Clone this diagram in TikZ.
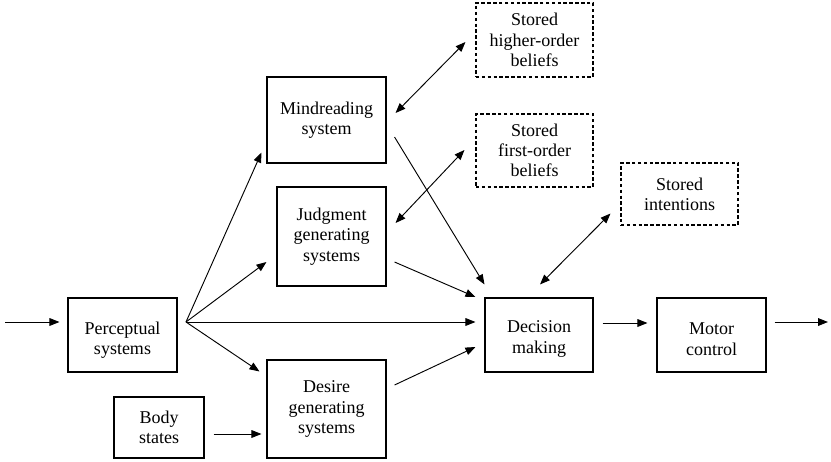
\documentclass[tikz,border=0pt]{standalone}
\usepackage{fontspec}
\setmainfont{Liberation Serif}
\newfontfamily\timesx{Liberation Serif}
\usetikzlibrary{arrows.meta,calc}
\begin{document}
\begin{tikzpicture}[x=0.75pt,y=-0.75pt,
  box/.style={draw,line width=0.8pt,align=center,inner sep=0pt,
    font=\timesx\fontsize{13.5}{15.2}\selectfont},
  solidbox/.style={box},
  dashbox/.style={box,dash pattern=on 2.6pt off 1.8pt},
  arr/.style={line width=0.7pt,-{Triangle[length=7.5pt,width=5.8pt]}},
  darr/.style={line width=0.7pt,{Triangle[length=7.5pt,width=5.8pt]}-{Triangle[length=7.5pt,width=5.8pt]}}]
\useasboundingbox (0,0) rectangle (831,461);
% boxes
\node[solidbox,minimum width=109*0.75pt,minimum height=74*0.75pt] (perc) at (122.5,335) {\rule{0pt}{17pt}Perceptual\\systems};
\node[solidbox,minimum width=90*0.75pt,minimum height=61*0.75pt] (body) at (159,427.5) {Body\\states};
\node[solidbox,minimum width=119*0.75pt,minimum height=86*0.75pt] (mind) at (326.5,120) {Mindreading\\system};
\node[solidbox,minimum width=109*0.75pt,minimum height=99*0.75pt] (judg) at (331.5,236.5) {Judgment\\generating\\systems};
\node[solidbox,minimum width=119*0.75pt,minimum height=98*0.75pt] (desire) at (326.5,409) {Desire\\generating\\systems};
\node[solidbox,minimum width=108*0.75pt,minimum height=74*0.75pt] (dec) at (539,335) {\rule{0pt}{15pt}Decision\\making};
\node[solidbox,minimum width=109*0.75pt,minimum height=74*0.75pt] (motor) at (711.5,335) {\rule{0pt}{15pt}Motor\\control};
\node[dashbox,minimum width=117*0.75pt,minimum height=74*0.75pt] (sho) at (534.5,40) {Stored\\higher-order\\beliefs};
\node[dashbox,minimum width=117*0.75pt,minimum height=73*0.75pt] (sfo) at (534.5,150.5) {Stored\\first-order\\beliefs};
\node[dashbox,minimum width=117*0.75pt,minimum height=62*0.75pt] (sint) at (679.5,194) {Stored\\intentions};
% free ends
\coordinate (fan) at (186,322);
\coordinate (in) at (5,322);
\coordinate (out) at (828,322);
% connectors
\draw[arr] (in) -- ($(perc.west)+(-8,-13)$);
\draw[arr] (fan) -- ($(mind.south west)+(-5,-11)$);
\draw[arr] (fan) -- ($(judg.west)+(-10,25.5)$);
\draw[arr] (fan) -- ($(dec.west)+(-9,-13)$);
\draw[arr] (fan) -- ($(desire.north west)+(-7,12)$);
\draw[arr] ($(body.east)+(9,6.5)$) -- ($(desire.west)+(-5,25)$);
\draw[arr] ($(mind.east)+(8,17)$) -- ($(dec.north west)+(0,-13)$);
\draw[arr] ($(judg.east)+(8,25.5)$) -- ($(dec.west)+(-9,-38)$);
\draw[arr] ($(desire.east)+(8,-24)$) -- ($(dec.west)+(-9,12)$);
\draw[arr] ($(dec.east)+(9,-12)$) -- ($(motor.west)+(-9,-12)$);
\draw[arr] ($(motor.east)+(8,-13)$) -- (out);
\draw[darr] ($(mind.east)+(9,-7)$) -- ($(sho.west)+(-10,2)$);
\draw[darr] ($(judg.east)+(9,-13.5)$) -- ($(sfo.west)+(-11,-0.5)$);
\draw[darr] ($(dec.north)+(1,-13)$) -- ($(sint.south west)+(-10,-12)$);
\end{tikzpicture}
\end{document}
